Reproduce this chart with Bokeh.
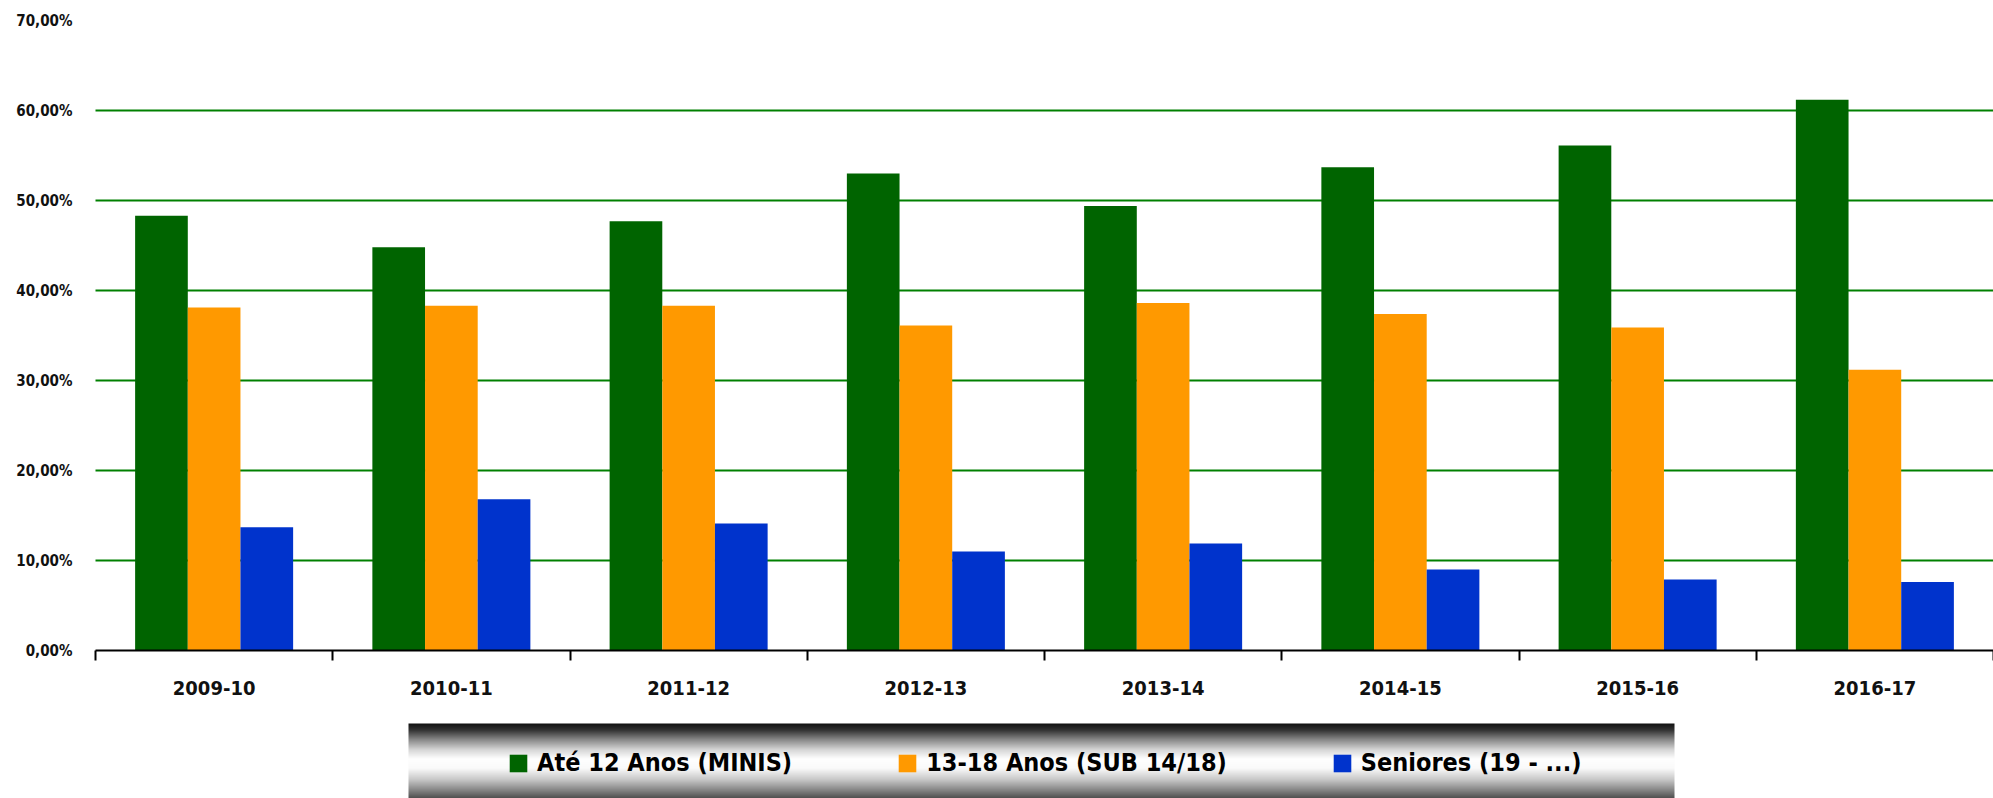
import numpy as np
from bokeh.plotting import figure
from bokeh.models import Range1d, FixedTicker, ColumnDataSource, Legend, LegendItem, LinearAxis
from bokeh.transform import dodge
from bokeh.embed import file_html
from bokeh.resources import INLINE

# ---- data ----
categories = ["2009-10", "2010-11", "2011-12", "2012-13", "2013-14", "2014-15", "2015-16", "2016-17"]
ate_12 = [48.3, 44.8, 47.7, 53.0, 49.4, 53.7, 56.1, 61.2]
anos_13_18 = [38.1, 38.3, 38.3, 36.1, 38.6, 37.4, 35.9, 31.2]
seniores = [13.7, 16.8, 14.1, 11.0, 11.9, 9.0, 7.9, 7.6]
series_names = ["Até 12 Anos (MINIS)", "13-18 Anos (SUB 14/18)", "Seniores (19 - ...)"]
series_colors = ["#006400", "#FF9900", "#0033CC"]
y_ticks = [0, 10, 20, 30, 40, 50, 60, 70]
y_tick_labels = ["0,00%", "10,00%", "20,00%", "30,00%", "40,00%", "50,00%", "60,00%", "70,00%"]

FONT = "DejaVu Sans Condensed"

# ---- layout (pixels inside the canvas) ----
W, H = 1993, 798
PLOT_LEFT, PLOT_TOP, PLOT_BOTTOM = 95, 20, 650
n = len(categories)
ymax = y_ticks[-1]
ppx = (W - PLOT_LEFT) / n               # pixels per category
ppy = (PLOT_BOTTOM - PLOT_TOP) / ymax   # pixels per percent

def px_to_x(px):
    return (px - PLOT_LEFT) / ppx

def px_to_y(py):
    return (PLOT_BOTTOM - py) / ppy

centers = [i + 0.5 for i in range(n)]
source = ColumnDataSource(dict(x=centers, cat=categories, a=ate_12, b=anos_13_18, c=seniores))

p = figure(width=W, height=H,
           x_range=Range1d(px_to_x(0), px_to_x(W)), y_range=Range1d(px_to_y(H), px_to_y(0)),
           output_backend="svg", toolbar_location=None,
           x_axis_location=None, y_axis_location=None,
           min_border_left=0, min_border_right=0, min_border_top=0, min_border_bottom=0)
p.outline_line_color = None
p.background_fill_color = "white"
p.border_fill_color = "white"
p.xgrid.visible = False
p.ygrid.visible = False

# horizontal grid lines (between 0 and the top tick)
grid_vals = y_ticks[1:-1]
p.segment(x0=[0] * len(grid_vals), x1=[n] * len(grid_vals), y0=grid_vals, y1=grid_vals,
          line_color="#008000", line_width=2)

# bars
bw = 0.222
bar_renderers = []
for key, off, col in zip(["a", "b", "c"], [-bw, 0, bw], series_colors):
    r = p.vbar(x=dodge("x", off, range=p.x_range), top=key, width=bw, bottom=0,
               source=source, fill_color=col, line_color=None)
    bar_renderers.append(r)

# y axis
ya = LinearAxis(fixed_location=0, bounds=(0, ymax))
ya.ticker = FixedTicker(ticks=y_ticks)
ya.major_label_overrides = {t: l for t, l in zip(y_ticks, y_tick_labels)}
ya.axis_line_color = None
ya.major_tick_line_color = None
ya.minor_tick_line_color = None
ya.major_label_standoff = 17
ya.major_label_text_font = FONT
ya.major_label_text_font_style = "bold"
ya.major_label_text_font_size = "15px"
ya.major_label_text_color = "#111111"
p.add_layout(ya, "left")

# x axis
xa = LinearAxis(fixed_location=0, bounds=(0, n))
xa.ticker = FixedTicker(ticks=centers, minor_ticks=list(range(n + 1)))
xa.major_label_overrides = {c: l for c, l in zip(centers, categories)}
xa.axis_line_color = "black"
xa.axis_line_width = 2
xa.major_tick_line_color = None
xa.minor_tick_line_color = "black"
xa.minor_tick_line_width = 2
xa.minor_tick_out = 10
xa.minor_tick_in = 0
xa.major_label_standoff = 20
xa.major_label_text_font = FONT
xa.major_label_text_font_style = "bold"
xa.major_label_text_font_size = "20px"
xa.major_label_text_color = "#111111"
p.add_layout(xa, "below")

# ---- legend strip with grey gradient ----
BOX_L, BOX_R, BOX_T, BOX_B = 408, 1674, 723, 798
NROWS = BOX_B - BOX_T
stops_pos = [0.0, 0.08, 0.2, 0.35, 0.47, 0.6, 0.75, 0.9, 1.0]
stops_val = [20, 50, 130, 215, 255, 250, 200, 130, 80]
t = np.linspace(0, 1, NROWS)
g = np.interp(t, stops_pos, stops_val).astype(np.uint8)[::-1]  # row 0 = bottom
img = np.zeros((NROWS, 1), dtype=np.uint32)
view = img.view(dtype=np.uint8).reshape((NROWS, 1, 4))
view[:, 0, 0] = g
view[:, 0, 1] = g
view[:, 0, 2] = g
view[:, 0, 3] = 255
p.image_rgba(image=[img], x=px_to_x(BOX_L), y=px_to_y(BOX_B),
             dw=px_to_x(BOX_R) - px_to_x(BOX_L), dh=px_to_y(BOX_T) - px_to_y(BOX_B))

items = [LegendItem(label=name, renderers=[r]) for name, r in zip(series_names, bar_renderers)]
leg = Legend(items=items, orientation="horizontal", location=(507, 21),
             glyph_width=22, glyph_height=22, label_standoff=8, spacing=104,
             padding=0, margin=0, background_fill_alpha=0, border_line_alpha=0,
             label_text_font=FONT,
             label_text_font_style="bold", label_text_font_size="25px",
             label_text_color="black")
p.add_layout(leg)

open("out.html", "w").write(file_html(p, INLINE))
